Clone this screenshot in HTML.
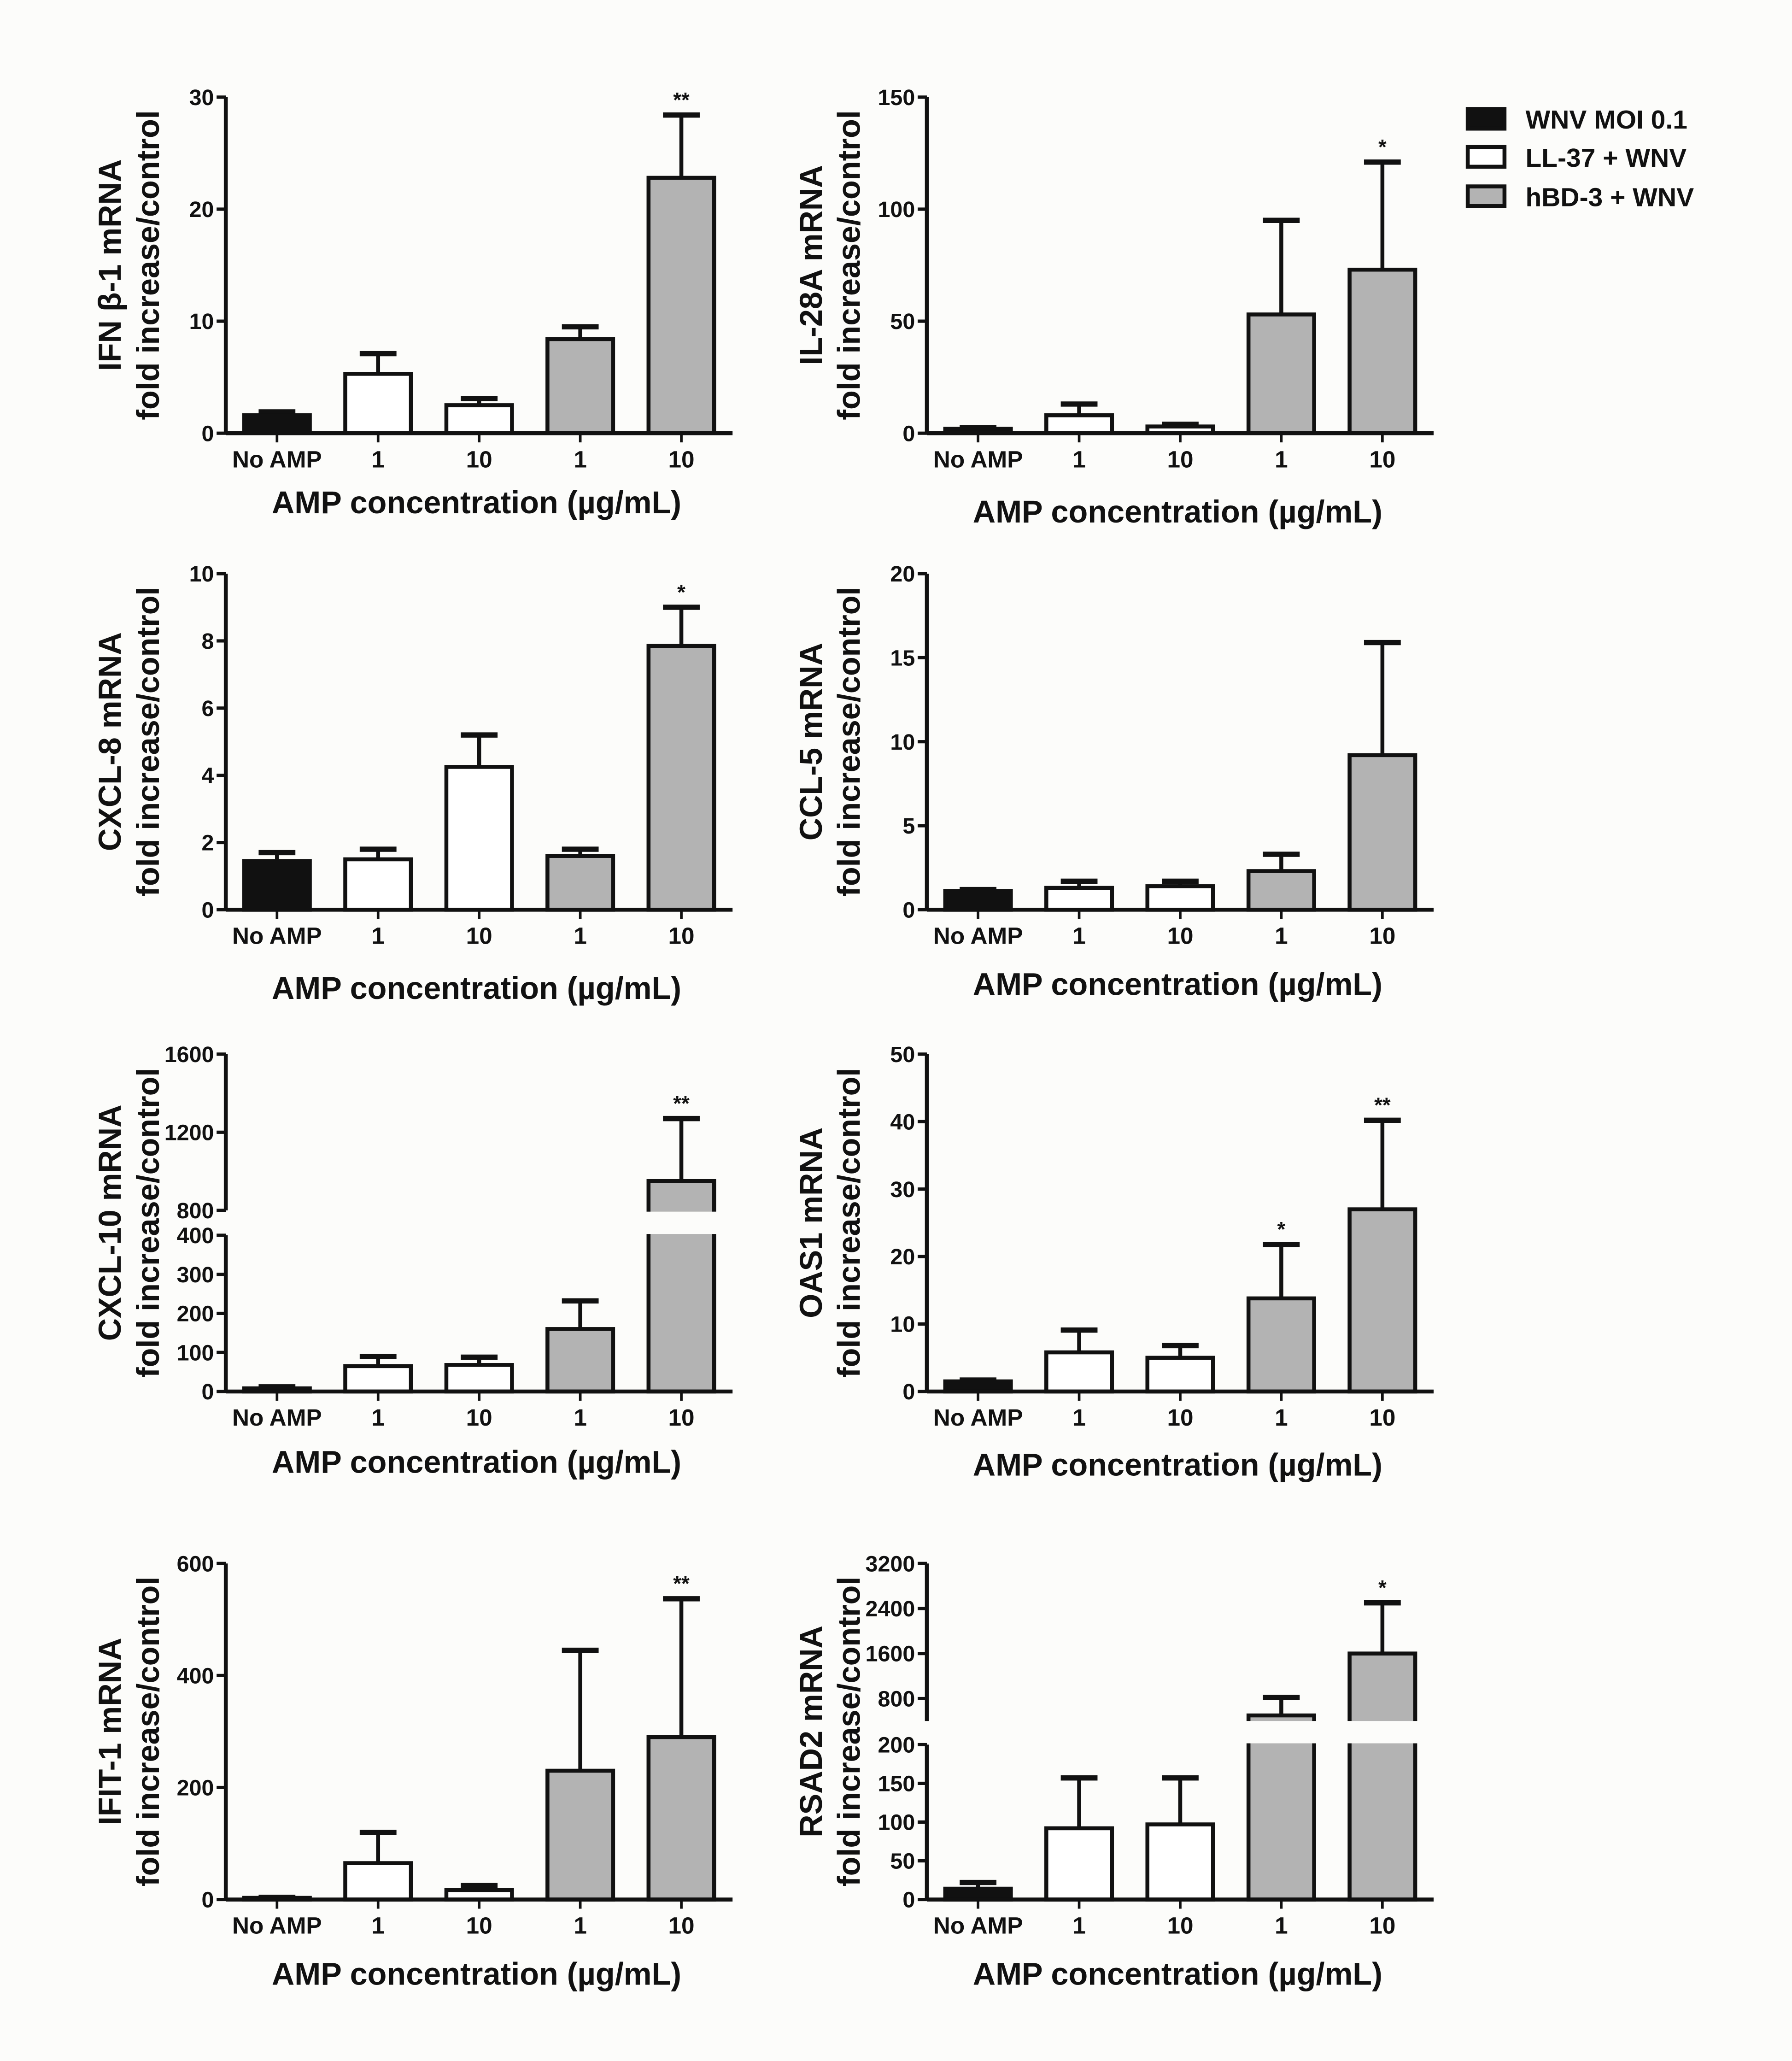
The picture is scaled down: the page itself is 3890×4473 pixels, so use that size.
<!DOCTYPE html>
<html><head><meta charset="utf-8"><style>
html,body{margin:0;padding:0;background:#fcfcfa;}
svg{display:block;}
text{font-family:"Liberation Sans",sans-serif;font-weight:bold;fill:#111;}
</style></head><body>
<svg id="fig" width="3890" height="4473" viewBox="0 0 1365 1570" preserveAspectRatio="none" xmlns="http://www.w3.org/2000/svg">
<rect width="1365" height="1570" fill="#fcfcfa"/>
<g>
 <g><rect x="1118" y="83" width="28" height="15" fill="#111" stroke="#111" stroke-width="3"/><text x="1162" y="98" font-size="20">WNV MOI 0.1</text></g>
 <g><rect x="1118" y="112" width="28" height="15" fill="#fff" stroke="#111" stroke-width="3"/><text x="1162" y="127" font-size="20">LL-37 + WNV</text></g>
 <g><rect x="1118" y="142" width="28" height="15" fill="#b3b3b3" stroke="#111" stroke-width="3"/><text x="1162" y="157" font-size="20">hBD-3 + WNV</text></g>
</g>
</svg>
<script>
const categories = ["No AMP","1","10","1","10"];
const ifnValues = [1.6,5.3,2.5,8.4,22.8];
const ifnErrTop = [1.9,7.1,3.1,9.5,28.4];
const ifnStars = ["","","","","**"];
const ifnTicks = [0,10,20,30];
const il28Values = [2,8,3,53,73];
const il28ErrTop = [2.5,13,4,95,121];
const il28Stars = ["","","","","*"];
const il28Ticks = [0,50,100,150];
const cxcl8Values = [1.45,1.5,4.25,1.6,7.85];
const cxcl8ErrTop = [1.7,1.8,5.2,1.8,9.0];
const cxcl8Stars = ["","","","","*"];
const cxcl8Ticks = [0,2,4,6,8,10];
const ccl5Values = [1.1,1.3,1.4,2.3,9.2];
const ccl5ErrTop = [1.2,1.7,1.7,3.3,15.9];
const ccl5Stars = ["","","","",""];
const ccl5Ticks = [0,5,10,15,20];
const cxcl10Values = [8,65,68,160,950];
const cxcl10ErrTop = [12,90,88,232,1270];
const cxcl10Stars = ["","","","","**"];
const cxcl10LowTicks = [0,100,200,300,400];
const cxcl10HighTicks = [800,1200,1600];
const oasValues = [1.5,5.8,5.0,13.8,27];
const oasErrTop = [1.7,9.1,6.8,21.8,40.2];
const oasStars = ["","","","*","**"];
const oasTicks = [0,10,20,30,40,50];
const ifitValues = [3,65,17,230,290];
const ifitErrTop = [4,120,25,445,537];
const ifitStars = ["","","","","**"];
const ifitTicks = [0,200,400,600];
const rsadValues = [14,92,97,500,1600];
const rsadErrTop = [22,157,157,820,2500];
const rsadStars = ["","","","","*"];
const rsadLowTicks = [0,50,100,150,200];
const rsadHighTicks = [800,1600,2400,3200];

const NS="http://www.w3.org/2000/svg";
const svg=document.getElementById('fig');
const fills=["#111","#fff","#fff","#b3b3b3","#b3b3b3"];
function mk(tag,attrs,parent){const e=document.createElementNS(NS,tag);for(const k in attrs)e.setAttribute(k,attrs[k]);parent.appendChild(e);return e;}

function chart(o){
  const g=mk('g',{},svg);
  
  
  const ax=o.ax, end=ax+386, bottom=o.bottom;
  const cx=i=>ax+39+77*i;
  const y=o.scale;
  o.values.forEach((v,i)=>{
    const top=y(o.errTop[i]);
    const eb=mk('g',{},g);
    
    
    mk('line',{x1:cx(i),x2:cx(i),y1:y(v),y2:top,stroke:'#111','stroke-width':3},eb);
    mk('line',{x1:cx(i)-14,x2:cx(i)+14,y1:top,y2:top,stroke:'#111','stroke-width':4},eb);
    const b=mk('rect',{x:cx(i)-25,y:y(v),width:50,height:bottom-y(v),fill:fills[i],stroke:'#111','stroke-width':3},g);
    
    
    if(o.gap && v>o.gap.v){
      const w=mk('rect',{x:cx(i)-28,y:o.gap.y1,width:56,height:o.gap.y2-o.gap.y1,fill:'#fcfcfa'},g);
      
      
    }
    if(o.stars[i]){
      const s=mk('text',{x:cx(i),y:top-6,'font-size':16,'text-anchor':'middle','font-weight':'normal'},g);
      s.textContent=o.stars[i];
      
      
    }
    const t=mk('text',{x:cx(i),y:bottom+26,'font-size':18,'text-anchor':'middle'},g);
    t.textContent=categories[i];
    
    
    mk('line',{x1:cx(i),x2:cx(i),y1:bottom,y2:bottom+7,stroke:'#111','stroke-width':2},g);
  });
  mk('line',{x1:ax,x2:end,y1:bottom,y2:bottom,stroke:'#111','stroke-width':3},g);
  o.segments.forEach(s=>mk('line',{x1:ax,x2:ax,y1:s[0],y2:s[1],stroke:'#111','stroke-width':3},g));
  o.ticks.forEach(tv=>{
    mk('line',{x1:ax-7,x2:ax,y1:y(tv),y2:y(tv),stroke:'#111','stroke-width':2.5},g);
    const t=mk('text',{x:ax-9,y:y(tv)+6,'font-size':17,'text-anchor':'end'},g);
    t.textContent=tv;
    
    
  });
  const cy=(o.segments[0][0]+bottom)/2;
  const yt=mk('text',{transform:`translate(${ax-80},${cy}) rotate(-90)`,'font-size':24,'text-anchor':'middle'},g);
  yt.textContent=o.title;
  
  
  const yt2=mk('text',{transform:`translate(${ax-51},${cy}) rotate(-90)`,'font-size':24,'text-anchor':'middle'},g);
  yt2.textContent='fold increase/control';
  
  
  const xt=mk('text',{x:ax+191,y:o.xtY,'font-size':24,'text-anchor':'middle'},g);
  xt.textContent='AMP concentration (\u00b5g/mL)';
  
  
}
function lin(max,top,bottom){return v=>bottom-(v/max)*(bottom-top);}

chart({name:'ifn-beta-chart',ax:172,bottom:330,scale:lin(30,74,330),values:ifnValues,errTop:ifnErrTop,stars:ifnStars,ticks:ifnTicks,segments:[[74,330]],title:'IFN β-1 mRNA',xtY:391});
chart({name:'il28a-chart',ax:706,bottom:330,scale:lin(150,74,330),values:il28Values,errTop:il28ErrTop,stars:il28Stars,ticks:il28Ticks,segments:[[74,330]],title:'IL-28A mRNA',xtY:398});
chart({name:'cxcl8-chart',ax:172,bottom:693,scale:lin(10,437,693),values:cxcl8Values,errTop:cxcl8ErrTop,stars:cxcl8Stars,ticks:cxcl8Ticks,segments:[[437,693]],title:'CXCL-8 mRNA',xtY:761});
chart({name:'ccl5-chart',ax:706,bottom:693,scale:lin(20,437,693),values:ccl5Values,errTop:ccl5ErrTop,stars:ccl5Stars,ticks:ccl5Ticks,segments:[[437,693]],title:'CCL-5 mRNA',xtY:758});
chart({name:'cxcl10-chart',ax:172,bottom:1060,scale:v=>v<=400?1060-v/400*119:922-(v-800)/800*119,values:cxcl10Values,errTop:cxcl10ErrTop,stars:cxcl10Stars,ticks:cxcl10LowTicks.concat(cxcl10HighTicks),segments:[[803,922],[941,1060]],gap:{v:400,y1:923,y2:940},title:'CXCL-10 mRNA',xtY:1122});
chart({name:'oas1-chart',ax:706,bottom:1060,scale:lin(50,803,1060),values:oasValues,errTop:oasErrTop,stars:oasStars,ticks:oasTicks,segments:[[803,1060]],title:'OAS1 mRNA',xtY:1124});
chart({name:'ifit1-chart',ax:172,bottom:1447,scale:lin(600,1191,1447),values:ifitValues,errTop:ifitErrTop,stars:ifitStars,ticks:ifitTicks,segments:[[1191,1447]],title:'IFIT-1 mRNA',xtY:1512});
chart({name:'rsad2-chart',ax:706,bottom:1447,scale:v=>v<=200?1447-v/200*118:1191+(3200-v)/800*34.3,values:rsadValues,errTop:rsadErrTop,stars:rsadStars,ticks:rsadLowTicks.concat(rsadHighTicks),segments:[[1191,1311],[1329,1447]],gap:{v:200,y1:1311,y2:1328},title:'RSAD2 mRNA',xtY:1512});
</script>
</body></html>
